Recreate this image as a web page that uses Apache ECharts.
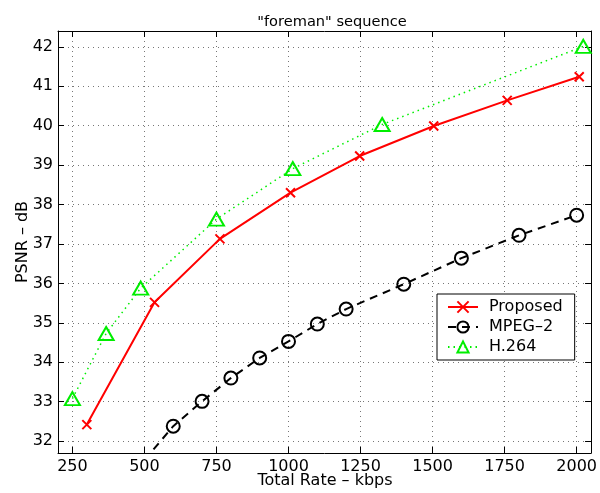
<!DOCTYPE html>
<html>
<head>
<meta charset="utf-8">
<script src="https://cdn.jsdelivr.net/npm/echarts@6/dist/echarts.min.js"></script>
<style>
  html, body { margin: 0; padding: 0; background: #fff; }
  #chart { width: 600px; height: 493px; }
</style>
</head>
<body>
<div id="chart"></div>
<script>
// values
const proposedRate = [300, 535, 762, 1007, 1247, 1504, 1759, 2009]
const proposedPsnr = [32.42, 35.52, 37.13, 38.3, 39.23, 39.99, 40.64, 41.24]
const mpegRate = [500, 600, 700, 800, 900, 1000, 1100, 1200, 1400, 1600, 1800, 2000]
const mpegPsnr = [31.52, 32.38, 33.01, 33.6, 34.11, 34.53, 34.97, 35.35, 35.98, 36.64, 37.22, 37.73]
const h264Rate = [250, 367, 487, 750, 1015, 1325, 2023]
const h264Psnr = [33.08, 34.73, 35.88, 37.63, 38.91, 40.03, 42.01]
const xTicks = [250, 500, 750, 1000, 1250, 1500, 1750, 2000]
const yTicks = [32, 33, 34, 35, 36, 37, 38, 39, 40, 41, 42]

const font = "'DejaVu Sans', Verdana, sans-serif"
const xStep = xTicks[1] - xTicks[0]
const yStep = yTicks[1] - yTicks[0]
const pair = (xs, ys) => xs.map((x, i) => [x, ys[i]])

const baseX = {
  type: "value",
  min: 200,
  max: 2050,
  minInterval: xStep,
  maxInterval: xStep,
  axisLine: { show: true, onZero: false, lineStyle: { color: "#000", width: 1 } },
  axisTick: { show: true, inside: true, length: 6, lineStyle: { color: "#000" } }
}
const baseY = {
  type: "value",
  min: 31.7,
  max: 42.4,
  minInterval: yStep,
  maxInterval: yStep,
  axisLine: { show: true, onZero: false, lineStyle: { color: "#000", width: 1 } },
  axisTick: { show: true, inside: true, length: 6, lineStyle: { color: "#000" } }
}
const gridLine = { show: true, lineStyle: { color: "#777", type: [1, 4], width: 1 } }

const chart = echarts.init(document.getElementById("chart"))
chart.setOption({
  animation: false,
  backgroundColor: "#fff",
  title: {
    text: '"foreman" sequence',
    left: 327,
    textAlign: "center",
    top: 10,
    textStyle: { fontFamily: font, fontSize: 14.6, fontWeight: "normal", color: "#000" }
  },
  graphic: [
    {
      type: "text",
      x: 325,
      y: 481,
      style: {
        text: "Total Rate – kbps",
        font: "16px " + font,
        fill: "#000",
        textAlign: "center",
        textVerticalAlign: "middle"
      }
    },
    {
      type: "text",
      x: 23,
      y: 242,
      rotation: Math.PI / 2,
      style: {
        text: "PSNR – dB",
        font: "16px " + font,
        fill: "#000",
        textAlign: "center",
        textVerticalAlign: "middle"
      }
    }
  ],
  grid: { left: 58, top: 31, right: 5, bottom: 40 },
  legend: {
    orient: "vertical",
    left: 437,
    top: 294,
    padding: [3, 12, 3, 10],
    itemWidth: 30,
    itemHeight: 14,
    itemGap: 0,
    backgroundColor: "#fff",
    borderColor: "#000",
    borderWidth: 1,
    borderRadius: 0,
    textStyle: { fontFamily: font, fontSize: 16, color: "#000", lineHeight: 20, padding: [0, 0, 0, 6] },
    data: ["Proposed", "MPEG–2", "H.264"]
  },
  xAxis: [
    Object.assign({}, baseX, {
      position: "bottom",
      axisLabel: {
        fontFamily: font, fontSize: 16, color: "#000", margin: 6,
        showMinLabel: false, showMaxLabel: false,
        formatter: v => String(v)
      },
      splitLine: gridLine
    }),
    Object.assign({}, baseX, {
      position: "top",
      axisLabel: { show: false },
      splitLine: { show: false }
    })
  ],
  yAxis: [
    Object.assign({}, baseY, {
      position: "left",
      axisLabel: {
        fontFamily: font, fontSize: 16, color: "#000", margin: 5,
        showMinLabel: false, showMaxLabel: false,
        formatter: v => String(v)
      },
      splitLine: gridLine
    }),
    Object.assign({}, baseY, {
      position: "right",
      axisLabel: { show: false },
      splitLine: { show: false }
    })
  ],
  series: [
    {
      name: "Proposed",
      type: "line",
      data: pair(proposedRate, proposedPsnr),
      symbol: "path://M0,0L10,10M10,0L0,10",
      symbolSize: 9,
      showAllSymbol: true,
      itemStyle: { color: "transparent", borderColor: "#ff0000", borderWidth: 2 },
      lineStyle: { color: "#ff0000", width: 2 },
      z: 4
    },
    {
      name: "MPEG–2",
      type: "line",
      data: pair(mpegRate, mpegPsnr),
      symbol: "circle",
      symbolSize: 13,
      showAllSymbol: true,
      itemStyle: { color: "transparent", borderColor: "#000", borderWidth: 2 },
      lineStyle: { color: "#000", width: 2, type: [8, 6] },
      z: 3
    },
    {
      name: "H.264",
      type: "line",
      data: pair(h264Rate, h264Psnr),
      symbol: "triangle",
      symbolSize: [15, 13],
      showAllSymbol: true,
      itemStyle: { color: "transparent", borderColor: "#00ee00", borderWidth: 2 },
      lineStyle: { color: "#00ee00", width: 1.5, type: [1.5, 4] },
      z: 2
    }
  ]
})
</script>
</body>
</html>
